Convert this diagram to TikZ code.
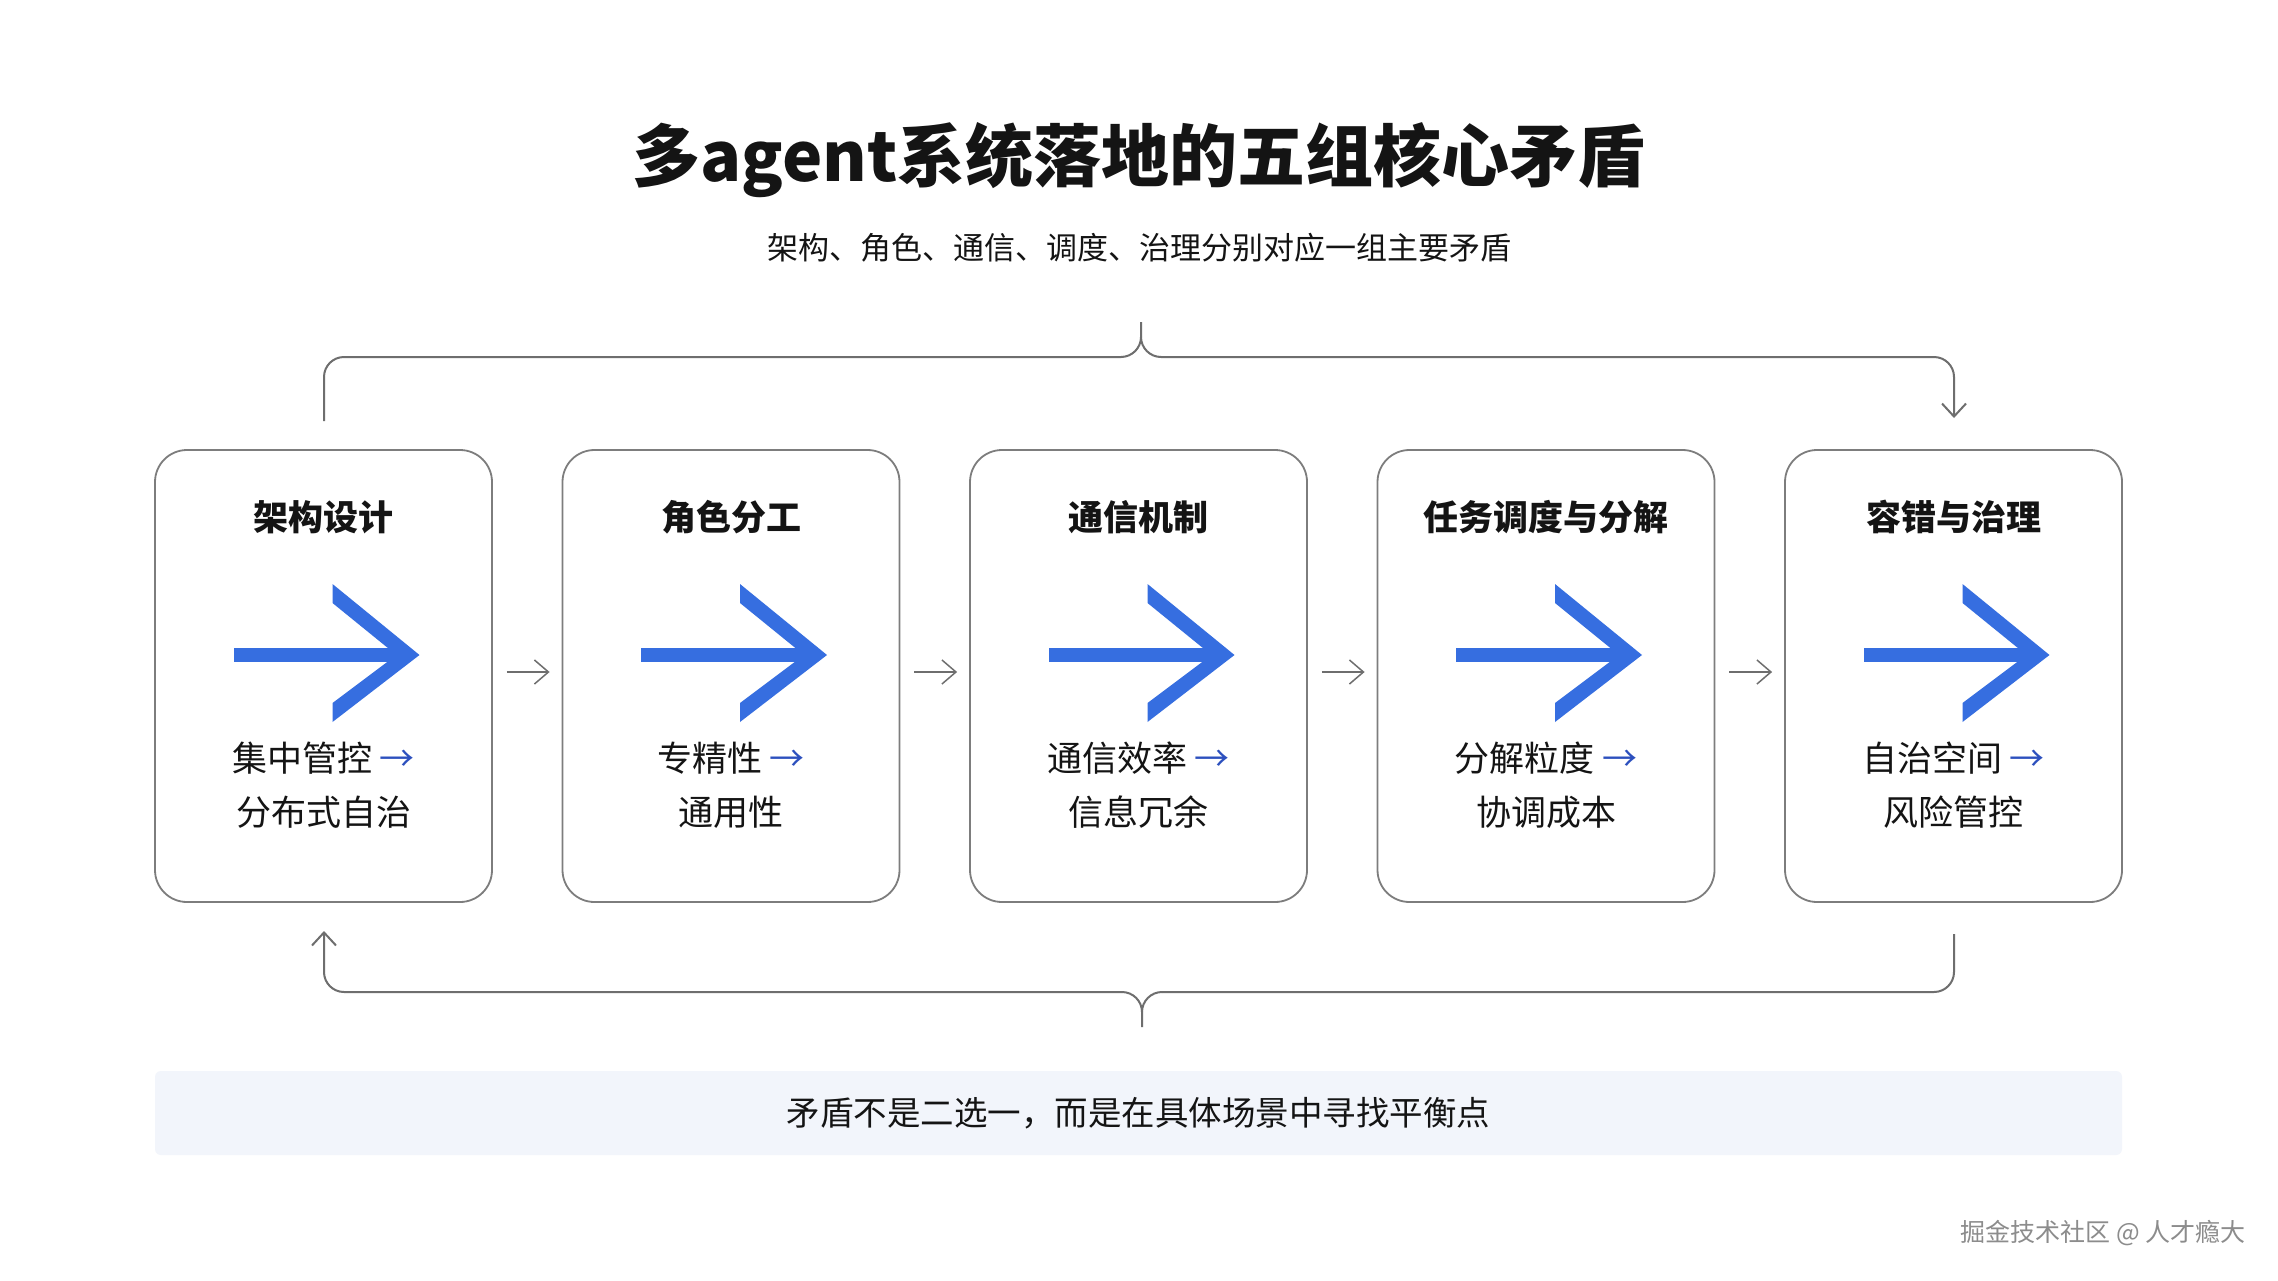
\documentclass[tikz,border=0pt]{standalone}
\usepackage{fontspec}
\setmainfont{Noto Sans CJK SC}
\usetikzlibrary{arrows.meta}
\definecolor{arrowblue}{RGB}{54,110,224}
\definecolor{smallblue}{RGB}{44,80,190}
\definecolor{linegray}{RGB}{110,110,110}
\definecolor{boxgray}{RGB}{125,125,125}
\definecolor{bannerfill}{RGB}{242,245,251}
\definecolor{ink}{RGB}{20,20,20}
\tikzset{
  box/.style={draw=boxgray, line width=1.8pt, rounded corners=32pt, minimum width=337pt, minimum height=452pt, fill=white},
  boxtitle/.style={font=\fontsize{35}{40}\selectfont\bfseries, text=ink},
  bodytext/.style={font=\fontsize{35}{40}\selectfont, text=ink},
  flowarrow/.style={draw=linegray, line width=1.5pt, -{Straight Barb[length=14pt,width=24pt,line width=1.5pt]}},
  bracket/.style={draw=linegray, line width=2pt},
  bracketarrow/.style={draw=linegray, line width=2pt, -{Straight Barb[length=13pt,width=24pt,line width=2pt]}},
  banner/.style={fill=bannerfill, rounded corners=6pt, minimum width=1967pt, minimum height=84pt, font=\fontsize{33.5}{38}\selectfont, text=ink},
  bigarrow/.pic={
    \fill[arrowblue] (-90,-28) rectangle (78,-14);
    \fill[arrowblue] (9,-92) -- (96,-21) -- (9,46) -- (9,27) -- (73,-21) -- (9,-73) -- cycle;
  }
}
\newcommand{\smallarr}{\ {\color{smallblue}→}}
\begin{document}
\begin{tikzpicture}[x=1pt,y=-1pt]
\useasboundingbox (0,0) rectangle (2278,1280);
\fill[white] (0,0) rectangle (2278,1280);

% title
\node[font=\fontsize{68}{78}\selectfont\bfseries, text=ink] (title) at (1139,160) {多agent系统落地的五组核心矛盾};
\node[font=\fontsize{31}{36}\selectfont, text=ink] (subtitle) at (1139,248) {架构、角色、通信、调度、治理分别对应一组主要矛盾};

% boxes
\node[box] (b1) at (323.5,676) {};
\node[box] (b2) at (731,676) {};
\node[box] (b3) at (1138.5,676) {};
\node[box] (b4) at (1546,676) {};
\node[box] (b5) at (1953.5,676) {};

% titles
\node[boxtitle] (t1) at (323.5,517) {架构设计};
\node[boxtitle] (t2) at (731,517) {角色分工};
\node[boxtitle] (t3) at (1138.5,517) {通信机制};
\node[boxtitle] (t4) at (1546,517) {任务调度与分解};
\node[boxtitle] (t5) at (1953.5,517) {容错与治理};

% big arrows
\foreach \n in {b1,b2,b3,b4,b5} {
  \pic at (\n.center) {bigarrow};
}

% body text
\node[bodytext] (p1) at (323.5,758) {集中管控\smallarr};
\node[bodytext] (q1) at (323.5,812) {分布式自治};
\node[bodytext] (p2) at (731,758) {专精性\smallarr};
\node[bodytext] (q2) at (731,812) {通用性};
\node[bodytext] (p3) at (1138.5,758) {通信效率\smallarr};
\node[bodytext] (q3) at (1138.5,812) {信息冗余};
\node[bodytext] (p4) at (1546,758) {分解粒度\smallarr};
\node[bodytext] (q4) at (1546,812) {协调成本};
\node[bodytext] (p5) at (1953.5,758) {自治空间\smallarr};
\node[bodytext] (q5) at (1953.5,812) {风险管控};

% flow arrows between boxes
\draw[flowarrow, shorten <=14pt, shorten >=12pt] ([yshift=4pt]b1.east) -- ([yshift=4pt]b2.west);
\draw[flowarrow, shorten <=14pt, shorten >=12pt] ([yshift=4pt]b2.east) -- ([yshift=4pt]b3.west);
\draw[flowarrow, shorten <=14pt, shorten >=12pt] ([yshift=4pt]b3.east) -- ([yshift=4pt]b4.west);
\draw[flowarrow, shorten <=14pt, shorten >=12pt] ([yshift=4pt]b4.east) -- ([yshift=4pt]b5.west);

% top bracket
\coordinate (tstart) at (324,421);
\coordinate (tend) at (1954,418);
\coordinate (tpeak) at (1141,337);
\coordinate (ttop) at (1141,322);
\draw[bracket, rounded corners=20pt] (tstart) -- (324,357) -- (1121,357);
\draw[bracket] (1121,357) .. controls (1132,357) and (1141,348) .. (tpeak) -- (ttop);
\draw[bracket] (tpeak) .. controls (1141,348) and (1150,357) .. (1161,357);
\draw[bracketarrow, rounded corners=20pt] (1161,357) -- (1954,357) -- (tend);

% bottom bracket
\coordinate (bstart) at (1954,934);
\coordinate (bend) at (324,931);
\coordinate (bdip) at (1142,1012);
\coordinate (bbot) at (1142,1027);
\draw[bracket, rounded corners=20pt] (bstart) -- (1954,992) -- (1162,992);
\draw[bracket] (1162,992) .. controls (1151,992) and (1142,1001) .. (bdip) -- (bbot);
\draw[bracket] (bdip) .. controls (1142,1001) and (1133,992) .. (1122,992);
\draw[bracketarrow, rounded corners=20pt] (1122,992) -- (324,992) -- (bend);

% banner
\node[banner] (note) at (1138.5,1113) {矛盾不是二选一，而是在具体场景中寻找平衡点};

% watermark
\node[font=\fontsize{25}{30}\selectfont, text={rgb,255:red,140;green,140;blue,140}] (wm) at (2103,1233) {掘金技术社区 @ 人才瘾大};
\end{tikzpicture}
\end{document}
